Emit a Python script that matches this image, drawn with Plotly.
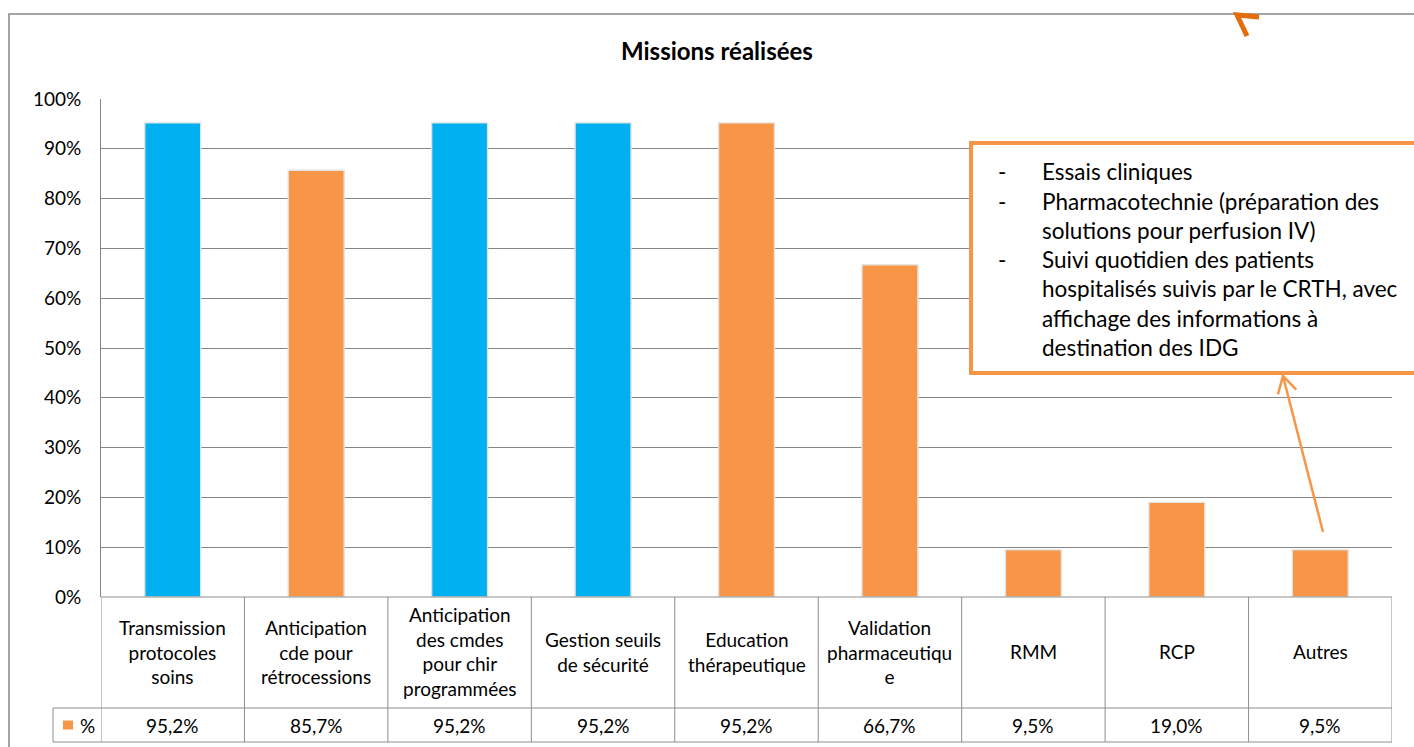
import math
import plotly.graph_objects as go

W, H = 1414, 747
FONT = "Lato"

categories = [
    "Transmission<br>protocoles<br>soins",
    "Anticipation<br>cde pour<br>rétrocessions",
    "Anticipation<br>des cmdes<br>pour chir<br>programmées",
    "Gestion seuils<br>de sécurité",
    "Education<br>thérapeutique",
    "Validation<br>pharmaceutiqu<br>e",
    "RMM",
    "RCP",
    "Autres",
]
values = [95.2, 85.7, 95.2, 95.2, 95.2, 66.7, 9.5, 19.0, 9.5]
highlight = [True, False, True, True, False, False, False, False, False]
series_name = "%"
title_text = "Missions réalisées"
note_items = [
    ["Essais cliniques"],
    ["Pharmacotechnie (préparation des", "solutions pour perfusion IV)"],
    ["Suivi quotidien des patients", "hospitalisés suivis par le CRTH, avec",
     "affichage des informations à", "destination des IDG"],
]

BLUE = "#00B0F0"
ORANGE = "#F79646"
DARK_ORANGE = "#E46C0A"
GRID = "#868686"
TABLE = "#8E8E8E"


def px(x):
    return x / W


def py(y):
    return 1 - y / H


# layout geometry (pixels)
PL, PR, PT, PB = 101, 1392, 99, 597
ROW1_B, ROW2_B = 708, 742
LEG_L = 53

n = len(categories)
xs = list(range(n))
colors = [BLUE if h else ORANGE for h in highlight]

fig = go.Figure()
fig.add_trace(go.Bar(
    x=xs, y=values, width=0.39,
    marker=dict(color=colors, line=dict(color="#E3E3E3", width=1.4)),
    name=series_name, showlegend=False, hoverinfo="y",
))

shapes = []
annotations = []

# outer chart frame
shapes.append(dict(type="rect", xref="paper", yref="paper",
                   x0=px(9), y0=py(14), x1=px(1430), y1=py(760),
                   line=dict(color=GRID, width=1.5), layer="below"))

# data table lines
tline = dict(color=TABLE, width=1)
for i in range(n + 1):
    shapes.append(dict(type="line", xref="x", yref="paper",
                       x0=i - 0.5, x1=i - 0.5, y0=py(PB), y1=py(ROW2_B), line=tline))
shapes.append(dict(type="line", xref="paper", yref="paper",
                   x0=px(PL), x1=px(PR), y0=py(PB), y1=py(PB), line=tline))
for yy in (ROW1_B, ROW2_B):
    shapes.append(dict(type="line", xref="paper", yref="paper",
                       x0=px(LEG_L), x1=px(PR), y0=py(yy), y1=py(yy), line=tline))
shapes.append(dict(type="line", xref="paper", yref="paper",
                   x0=px(LEG_L), x1=px(LEG_L), y0=py(ROW1_B), y1=py(ROW2_B), line=tline))

# table text
TFONT = dict(family=FONT, size=19, color="#000")
for i, (c, v) in enumerate(zip(categories, values)):
    annotations.append(dict(x=i, y=py((PB + ROW1_B) / 2 - 1), xref="x", yref="paper",
                            text=c, showarrow=False, yanchor="middle", font=TFONT))
    annotations.append(dict(x=i, y=py((ROW1_B + ROW2_B) / 2), xref="x", yref="paper",
                            text=f"{v:.1f}".replace(".", ",") + "%", showarrow=False,
                            yanchor="middle", font=TFONT))
# legend key in table
shapes.append(dict(type="rect", xref="paper", yref="paper",
                   x0=px(63), x1=px(73), y0=py(720.5), y1=py(729.5),
                   fillcolor=ORANGE, line=dict(width=0)))
annotations.append(dict(x=px(78), y=py((ROW1_B + ROW2_B) / 2), xref="paper", yref="paper",
                        text=series_name, showarrow=False, xanchor="left", yanchor="middle",
                        font=TFONT))

# title
annotations.append(dict(x=px(717), y=py(51), xref="paper", yref="paper",
                        text=f"<b>{title_text}</b>", showarrow=False, yanchor="middle",
                        font=dict(family=FONT, size=24, color="#000")))

# note box
shapes.append(dict(type="rect", xref="paper", yref="paper",
                   x0=px(971), y0=py(143), x1=px(1420), y1=py(373),
                   line=dict(color=ORANGE, width=4), fillcolor="white", layer="above"))
line_y0, line_dy = 172, 29.2
k = 0
NFONT = dict(family=FONT, size=22.5, color="#000")
for item in note_items:
    annotations.append(dict(x=px(996), y=py(line_y0 + k * line_dy), xref="paper", yref="paper",
                            text="-", showarrow=False, xanchor="left", yanchor="middle",
                            font=NFONT))
    for ln in item:
        annotations.append(dict(x=px(1040), y=py(line_y0 + k * line_dy), xref="paper", yref="paper",
                                text=ln, showarrow=False, xanchor="left", yanchor="middle",
                                font=NFONT))
        k += 1

# arrow from "Autres" bar to note box (open chevron head)
hx, hy, tx, ty = 1283, 376, 1323, 532
ang = math.atan2(ty - hy, tx - hx)
arm = 19
a1 = (hx + arm * math.cos(ang + 0.52), hy + arm * math.sin(ang + 0.52))
a2 = (hx + arm * math.cos(ang - 0.52), hy + arm * math.sin(ang - 0.52))
shapes.append(dict(type="path", xref="paper", yref="paper",
                   path=(f"M {px(tx)},{py(ty)} L {px(hx)},{py(hy)} "
                         f"M {px(a1[0])},{py(a1[1])} L {px(hx)},{py(hy)} L {px(a2[0])},{py(a2[1])}"),
                   line=dict(color=ORANGE, width=2.5), layer="above"))

# partial dark arrow at top
shapes.append(dict(type="path", xref="paper", yref="paper",
                   path=f"M {px(1259)},{py(17)} L {px(1237)},{py(15)} L {px(1247)},{py(36)}",
                   line=dict(color=DARK_ORANGE, width=5), layer="above"))

fig.update_layout(
    width=W, height=H,
    margin=dict(l=0, r=0, t=0, b=0, autoexpand=False),
    paper_bgcolor="white", plot_bgcolor="white",
    shapes=shapes, annotations=annotations,
    xaxis=dict(domain=[px(PL), px(PR)], range=[-0.5, n - 0.5], automargin=False,
               showticklabels=False, showgrid=False, zeroline=False,
               showline=False, ticks="", fixedrange=True),
    yaxis=dict(domain=[py(PB), py(PT)], range=[0, 100], dtick=10, automargin=False,
               ticksuffix="%", showgrid=True, gridcolor=GRID, gridwidth=1,
               zeroline=False, showline=True, linecolor=GRID, linewidth=1,
               ticks="", ticklabelstandoff=15,
               tickfont=dict(family=FONT, size=19, color="#000"), fixedrange=True),
    showlegend=False,
)

fig.write_html("out.html")
